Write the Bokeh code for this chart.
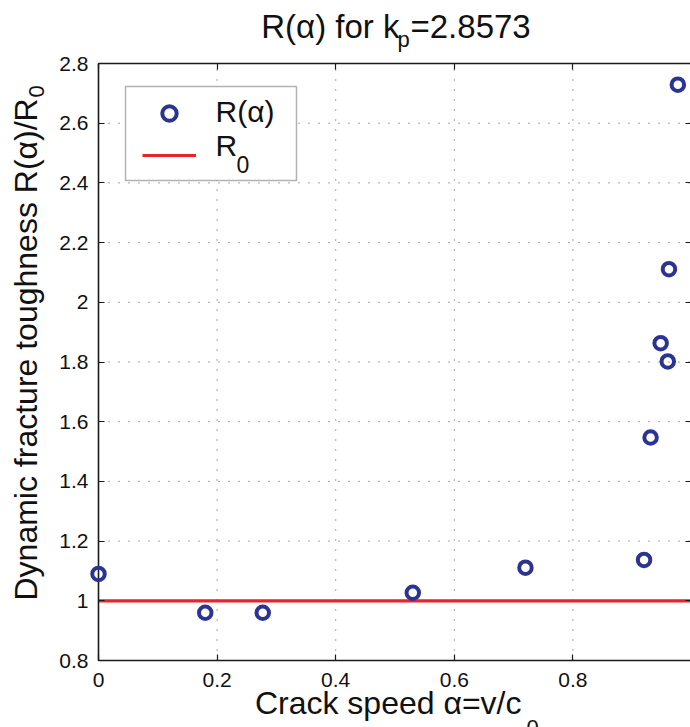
from bokeh.plotting import figure
from bokeh.models import (Range1d, FixedTicker, LinearAxis, Label, Legend, LegendItem,
                          ColumnDataSource, BoxAnnotation)
from bokeh.embed import file_html
from bokeh.resources import INLINE

# ---- data ----
alpha = [0.0, 0.18, 0.277, 0.53, 0.72, 0.92, 0.931, 0.948, 0.96, 0.962, 0.977]
r_alpha = [1.09, 0.96, 0.96, 1.027, 1.111, 1.137, 1.547, 1.863, 1.802, 2.111, 2.729]
r0_x = [0.0, 1.0]
r0_y = [1.0, 1.0]

x_ticks = [0, 0.2, 0.4, 0.6, 0.8, 1.0]
x_tick_labels = ["0", "0.2", "0.4", "0.6", "0.8", "1"]
y_ticks = [0.8, 1.0, 1.2, 1.4, 1.6, 1.8, 2.0, 2.2, 2.4, 2.6, 2.8]
y_tick_labels = ["0.8", "1", "1.2", "1.4", "1.6", "1.8", "2", "2.2", "2.4", "2.6", "2.8"]
x_lim = (0.0, 1.0)
y_lim = (0.8, 2.8)

title_main = "R(α) for k"
title_sub = "p"
title_rest = "=2.8573"
xlabel_main = "Crack speed α=v/c"
xlabel_sub = "0"
ylabel_main = "Dynamic fracture toughness R(α)/R"
ylabel_sub = "0"
legend_labels = ["R(α)", "R"]
legend_sub = "0"

FONT = "Liberation Sans"
NAVY = "#2b3591"
RED = "#ea2229"
INK = "#111111"

W, H = 690, 727
# plot box on the canvas (pixels): x_lim maps to [98, 691], y_lim maps to [660, 63]
PX0, PX1 = 98.0, 691.0
PY0, PY1 = 660.0, 63.0
xs = (x_lim[1] - x_lim[0]) / (PX1 - PX0)
ys = (y_lim[1] - y_lim[0]) / (PY0 - PY1)
x_range = Range1d(x_lim[0] - PX0 * xs, x_lim[0] + (W - PX0) * xs)
y_range = Range1d(y_lim[0] - (H - PY0) * ys, y_lim[0] + PY0 * ys)

def dx(px):
    return x_range.start + px * xs
def dy(py):
    return y_range.start + (H - py) * ys

p = figure(width=W, height=H, output_backend="svg", toolbar_location=None,
           x_range=x_range, y_range=y_range, min_border=0,
           title=None, x_axis_type=None, y_axis_type=None)
p.outline_line_color = None
p.background_fill_color = "white"
p.border_fill_color = "white"

def style_axis(ax, ticks, labels, show_labels=True):
    ax.ticker = FixedTicker(ticks=ticks)
    ax.major_label_overrides = {t: (l if show_labels else "") for t, l in zip(ticks, labels)}
    ax.axis_line_color = "#1a1a1a"
    ax.axis_line_width = 1.6
    ax.major_tick_line_color = "#1a1a1a"
    ax.major_tick_line_width = 1.2
    ax.major_tick_in = 6
    ax.major_tick_out = 0
    ax.minor_tick_line_color = None
    ax.major_label_text_font = FONT
    ax.major_label_text_font_size = "21px"
    ax.major_label_text_color = INK

# dotted grid (drawn from the tick lists, inside the axes box)
gx = [t for t in x_ticks]
p.segment(x0=gx, y0=[y_lim[0]] * len(gx), x1=gx, y1=[y_lim[1]] * len(gx),
          line_color="black", line_alpha=0.7, line_width=1, line_dash="1 9")
gy = [t for t in y_ticks]
p.segment(x0=[x_lim[0]] * len(gy), y0=gy, x1=[x_lim[1]] * len(gy), y1=gy,
          line_color="black", line_alpha=0.7, line_width=1, line_dash="1 9")

xb = LinearAxis(fixed_location=y_lim[0], bounds=x_lim)
style_axis(xb, x_ticks, x_tick_labels)
xb.major_label_standoff = 12
p.add_layout(xb, "below")

xt = LinearAxis(fixed_location=y_lim[1], bounds=x_lim)
style_axis(xt, x_ticks, x_tick_labels, show_labels=False)
xt.major_label_text_font_size = "0px"
p.add_layout(xt, "above")

yl = LinearAxis(fixed_location=x_lim[0], bounds=y_lim)
style_axis(yl, y_ticks, y_tick_labels)
yl.major_label_standoff = 10
p.add_layout(yl, "left")

yr = LinearAxis(fixed_location=x_lim[1], bounds=y_lim)
style_axis(yr, y_ticks, y_tick_labels, show_labels=False)
yr.major_label_text_font_size = "0px"
p.add_layout(yr, "right")

src = ColumnDataSource(dict(x=alpha, y=r_alpha))
line_r = p.line(r0_x, r0_y, line_color=RED, line_width=3.2)
pts = p.scatter("x", "y", source=src, marker="circle", size=12.5,
                fill_color=None, line_color=NAVY, line_width=4)
pts.level = "overlay"

# legend frame (white box with black border)
box = BoxAnnotation(left=dx(125), right=dx(296), top=dy(86), bottom=dy(180),
                    fill_color="white", fill_alpha=1, line_color="black", line_width=1.5,
                    level="annotation")
p.add_layout(box)

legend = Legend(items=[LegendItem(label=" ", renderers=[pts]),
                       LegendItem(label=" ", renderers=[line_r])],
                location=(142, H - 173))
legend.glyph_width = 54
legend.glyph_height = 36
legend.label_height = 36
legend.label_width = 77
legend.label_standoff = 19
legend.spacing = 6
legend.padding = 8
legend.margin = 0
legend.border_line_color = None
legend.background_fill_alpha = 0
legend.label_text_font_size = "20px"
p.add_layout(legend, "center")

SHIFT = 0.3465  # anchor -> baseline offset (fraction of font size)

def lab(text, px, base, size, align="left", angle=0):
    # base: wanted baseline position (page y, or page x for rotated text)
    if angle == 0:
        ax_, ay_ = px, base - SHIFT * size
    else:
        ax_, ay_ = base - SHIFT * size, px
    l = Label(x=ax_, y=H - ay_, x_units="screen", y_units="screen", text=text,
              text_font=FONT, text_font_size=f"{size}px", text_color=INK,
              text_align=align, text_baseline="alphabetic", angle=angle, angle_units="deg")
    l.level = "overlay"
    p.add_layout(l)
    return l

# legend texts
lab(legend_labels[0], 215, 121.7, 30)
lab(legend_labels[1], 215, 155, 30)
lab(legend_sub, 236, 171.7, 23)

# title
lab(title_main, 399, 37.7, 33, align="right")
lab(title_sub, 397, 46.7, 22)
lab(title_rest, 410, 37.7, 33)

# x label
lab(xlabel_main, 521, 713.3, 32, align="right")
lab(xlabel_sub, 526, 735, 22)

# y label (rotated): first arg = page y where the text starts, second = baseline x
lab(ylabel_main, 600, 37, 32, angle=90)
lab(ylabel_sub, 97, 44, 22, angle=90)

open("out.html", "w").write(file_html(p, INLINE))
